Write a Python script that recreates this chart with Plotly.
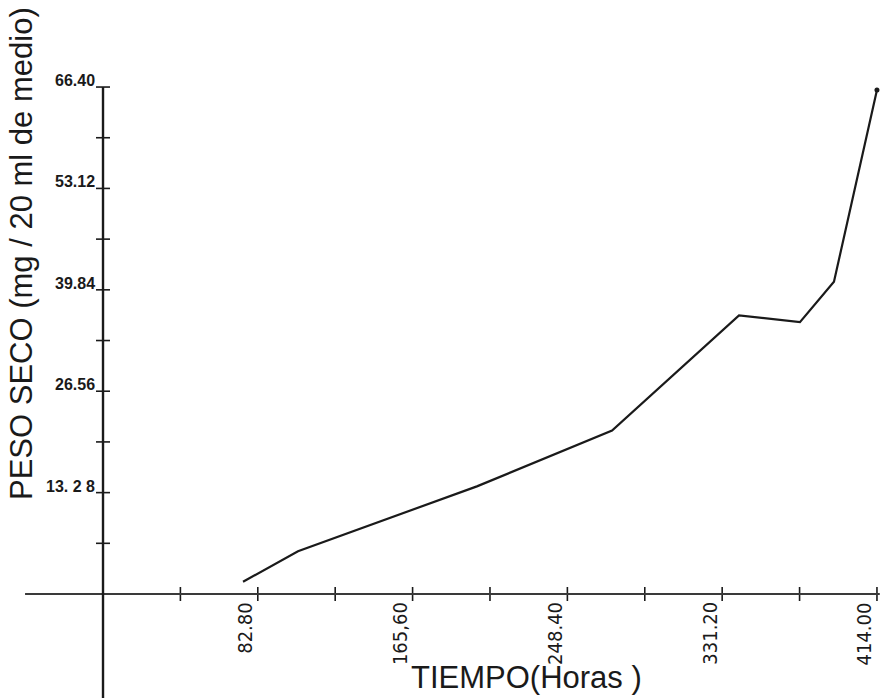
import plotly.graph_objects as go

# Growth curve: dry weight versus time
tiempo_horas = [74.9, 104.3, 200.0, 272.3, 340.2, 372.8, 391.0, 414.0]
peso_seco = [1.6, 5.6, 14.1, 21.4, 36.5, 35.6, 40.9, 66.0]

# Axis graduations
x_ticks_major = [82.80, 165.60, 248.40, 331.20, 414.00]
x_tick_labels = ["82.80", "165,60", "248.40", "331.20", "414.00"]
x_ticks_all = [41.4 * i for i in range(1, 11)]
y_ticks_major = [13.28, 26.56, 39.84, 53.12, 66.40]
y_tick_labels = ["13. 2 8", "26.56", "39.84", "53.12", "66.40"]
y_ticks_all = [6.64 * i for i in range(1, 11)]

INK = "#1a1a1a"
AXIS_INK = "#3a3a3a"
NARROW = "Liberation Sans Narrow, DejaVu Sans Condensed, Arial Narrow, sans-serif"
SANS = "Liberation Sans, Arial, sans-serif"

X_RANGE = [-55.1, 418.3]
Y_RANGE = [-13.62, 77.8]

fig = go.Figure()

# Axes drawn through the origin
fig.add_shape(type="line", x0=-41.7, x1=415.5, y0=0, y1=0,
              line=dict(color=AXIS_INK, width=2))
fig.add_shape(type="line", x0=0, x1=0, y0=Y_RANGE[0], y1=66.4,
              line=dict(color=INK, width=2.4))

# Tick marks crossing the axes
fig.add_trace(go.Scatter(
    x=x_ticks_all, y=[0] * len(x_ticks_all), mode="markers",
    marker=dict(symbol="line-ns", size=10, line=dict(color=INK, width=1.6)),
    hoverinfo="skip", showlegend=False))
fig.add_trace(go.Scatter(
    x=[0] * len(y_ticks_all), y=y_ticks_all, mode="markers",
    marker=dict(symbol="line-ew", size=10, line=dict(color=INK, width=1.6)),
    hoverinfo="skip", showlegend=False))

# Data curve
fig.add_trace(go.Scatter(
    x=tiempo_horas, y=peso_seco, mode="lines",
    line=dict(color=INK, width=2.2),
    hoverinfo="x+y", showlegend=False))
fig.add_trace(go.Scatter(
    x=[tiempo_horas[-1]], y=[peso_seco[-1]], mode="markers",
    marker=dict(color=INK, size=5),
    hoverinfo="skip", showlegend=False))

# Tick labels
for v, t in zip(x_ticks_major, x_tick_labels):
    fig.add_annotation(x=v, y=0, text=t, showarrow=False, textangle=-90,
                       xanchor="right", yanchor="top", xshift=1, yshift=-6,
                       font=dict(family=NARROW, size=20, color=INK))
for v, t in zip(y_ticks_major, y_tick_labels):
    fig.add_annotation(x=0, y=v, text="<b>" + t + "</b>", showarrow=False,
                       xanchor="right", yanchor="bottom", xshift=-6, yshift=-4,
                       font=dict(family=SANS, size=16, color=INK))

# Axis titles
fig.add_annotation(xref="paper", yref="paper", x=22 / 885, y=1 - 254 / 698,
                   text="PESO SECO (mg / 20 ml de medio)", showarrow=False,
                   textangle=-90, xanchor="center", yanchor="middle",
                   font=dict(family=SANS, size=31, color=INK))
fig.add_annotation(xref="paper", yref="paper", x=526 / 885, y=1 - 677 / 698,
                   text="TIEMPO(Horas )", showarrow=False,
                   xanchor="center", yanchor="middle",
                   font=dict(family=SANS, size=31, color=INK))

fig.update_layout(
    width=885, height=698,
    margin=dict(l=0, r=0, t=0, b=0),
    paper_bgcolor="white", plot_bgcolor="white",
    xaxis=dict(range=X_RANGE, visible=False, domain=[0, 1]),
    yaxis=dict(range=Y_RANGE, visible=False, domain=[0, 1]),
)

fig.write_html("out.html")
